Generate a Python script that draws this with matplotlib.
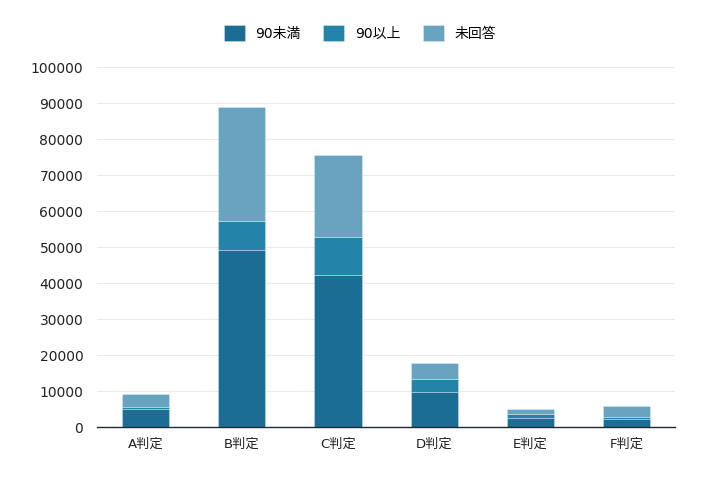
import numpy as np
import matplotlib.pyplot as plt

plt.rcParams['font.family'] = ['DejaVu Sans', 'Noto Sans CJK JP']

categories = ["A判定", "B判定", "C判定", "D判定", "E判定", "F判定"]
under90 = [5000, 49100, 42100, 9800, 2500, 2300]
over90 = [600, 8100, 10800, 3500, 1200, 600]
no_answer = [3600, 31800, 22600, 4500, 1300, 2900]

series = [("90未満", under90, "#1b6d93"),
          ("90以上", over90, "#2383a9"),
          ("未回答", no_answer, "#68a3c0")]

fig = plt.figure(figsize=(7.2, 4.8), dpi=100)
ax = fig.add_axes([0.135, 0.1104, 0.8025, 0.75])

x = np.arange(len(categories))
bottom = np.zeros(len(categories))
for label, vals, color in series:
    ax.bar(x, vals, width=0.49, bottom=bottom, color=color, label=label,
           edgecolor=(1, 1, 1, 0.35), linewidth=0.6, zorder=3)
    bottom += np.array(vals)

ax.set_xlim(-0.5, 5.5)
ax.set_ylim(0, 100000)
ax.set_yticks(np.arange(0, 100001, 10000))
ax.tick_params(axis="y", length=0, pad=10, labelsize=10, colors="#222222")
ax.tick_params(axis="x", length=0, pad=8, labelsize=9.5, colors="#222222")
ax.set_xticks(x)
ax.set_xticklabels(categories)
ax.grid(axis="y", color="#ebebeb", linewidth=0.8, zorder=0)
for s in ["left", "right", "top"]:
    ax.spines[s].set_visible(False)
ax.spines["bottom"].set_color("#1d2b36")
ax.spines["bottom"].set_linewidth(1.0)
ax.spines["bottom"].set_zorder(4)

fig.legend(loc="upper center", bbox_to_anchor=(0.5, 0.975), ncol=3, frameon=False,
           fontsize=10, handlelength=1.5, handleheight=1.5, columnspacing=1.6,
           handletextpad=0.8)

fig.savefig("out.png")
